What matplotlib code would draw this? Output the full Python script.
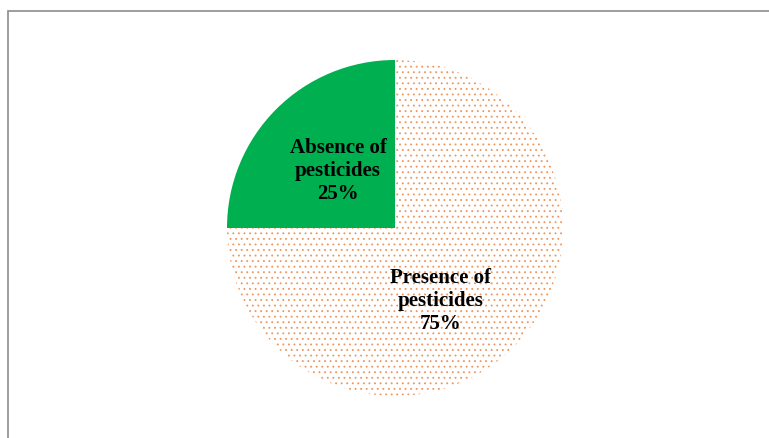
import numpy as np
import matplotlib.pyplot as plt
from matplotlib.patches import Rectangle

labels = ["Absence of\npesticides", "Presence of\npesticides"]
shares = [25, 75]

W, H = 769, 438
fig = plt.figure(figsize=(W / 100, H / 100), dpi=100)

# outer chart-area frame (cut off at right and bottom)
fig.patches.append(Rectangle((8 / W, -0.1), 1.2, 1.1 - 11 / H, transform=fig.transFigure,
                             fill=False, edgecolor="#8c8c8c", linewidth=1.2))

cx, cy, r = 395, 438 - 228, 168
ax = fig.add_axes([(cx - r) / W, (cy - r) / H, 2 * r / W, 2 * r / H])
plt.rcParams["hatch.linewidth"] = 0.6

wedges, _ = ax.pie(shares, startangle=90, counterclock=True, radius=1)
wedges[0].set_facecolor("#00b050")
wedges[0].set_edgecolor("none")
wedges[1].set_facecolor("white")
wedges[1].set_edgecolor("#f0955a")
wedges[1].set_linewidth(0)
wedges[1].set_hatch("...")

for w, lab, val, ang_off, rad in zip(wedges, labels, shares, [0, -13], [0.48, 0.51]):
    mid = np.deg2rad((w.theta1 + w.theta2) / 2 + ang_off)
    ax.text(rad * np.cos(mid), rad * np.sin(mid), f"{lab}\n{val}%",
            ha="center", va="center", fontsize=15, fontweight="bold",
            family="Liberation Serif", linespacing=1.2)

ax.set_xlim(-1, 1)
ax.set_ylim(-1, 1)
ax.set_aspect("equal")
ax.axis("off")

fig.savefig("out.png", dpi=100)
